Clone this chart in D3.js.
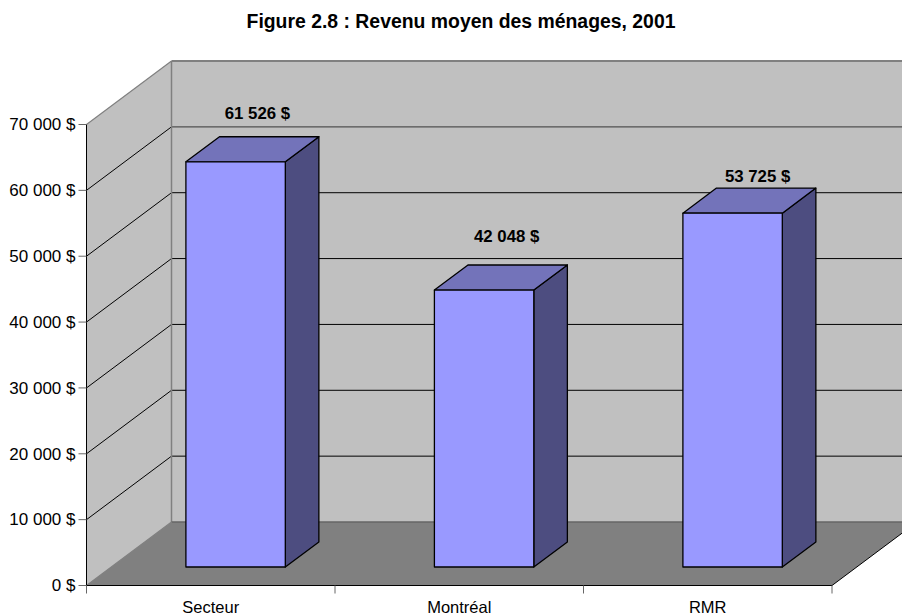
<!DOCTYPE html>
<html><head><meta charset="utf-8">
<script src="https://cdn.jsdelivr.net/npm/d3@7/dist/d3.min.js"></script>
<style>html,body{margin:0;padding:0;background:#fff}svg{display:block}text{font-family:"Liberation Sans",Arial,sans-serif;fill:#000}</style>
</head><body><svg id="c" width="902" height="615"></svg>
<script>
const titleText = "Figure 2.8 : Revenu moyen des ménages, 2001";
const categories = ["Secteur", "Montréal", "RMR"];
const values = [61526, 42048, 53725];
const valueLabels = ["61 526 $", "42 048 $", "53 725 $"];
const tickValues = [0, 10000, 20000, 30000, 40000, 50000, 60000, 70000];
const tickLabels = ["0 $", "10 000 $", "20 000 $", "30 000 $", "40 000 $", "50 000 $", "60 000 $", "70 000 $"];

const svg = d3.select("#c");
const L = 86.5, R = 832, B = 585.5, T = 124.5;
const DX = 85, DY = -63.5;
const x = d3.scaleBand().domain(categories).range([L, R]);
const y = d3.scaleLinear().domain([0, 70000]).range([B, T]);
const line = d3.line();
const poly = (pts, fill, stroke, sw) => svg.append("path").attr("d", line(pts) + "Z")
  .attr("fill", fill).attr("stroke", stroke || "none").attr("stroke-width", sw || 0).attr("stroke-linejoin", "round");
const seg = (a, b, stroke, sw) => svg.append("line").attr("x1", a[0]).attr("y1", a[1]).attr("x2", b[0]).attr("y2", b[1])
  .attr("stroke", stroke).attr("stroke-width", sw);

// walls
poly([[L, y(0)], [L + DX, y(0) + DY], [L + DX, T + DY], [L, T]], "#C0C0C0");
poly([[L + DX, y(0) + DY], [R + DX, y(0) + DY], [R + DX, T + DY], [L + DX, T + DY]], "#C0C0C0");
poly([[L, B], [L + DX, B + DY], [R + DX, B + DY], [R, B]], "#808080");

// gridlines
tickValues.slice(1, -1).forEach(v => {
  const c = v === 60000 ? "#505050" : "#000";
  seg([L, y(v)], [L + DX, y(v) + DY], "#000", 1);
  seg([L + DX, y(v) + DY], [R + DX, y(v) + DY], c, v === 60000 ? 1.3 : 1);
});
// wall edges
seg([L, T], [L + DX, T + DY], "#808080", 1.2);
seg([L + DX, T + DY], [R + DX, T + DY], "#808080", 2);
seg([L + DX, T + DY], [L + DX, B + DY], "#808080", 1.5);
seg([L + DX, B + DY], [R + DX, B + DY], "#666", 1.5);
seg([L, B], [L + DX, B + DY], "#808080", 1.2);
seg([R, B], [R + DX, B + DY], "#000", 1);

// axes
seg([L, T], [L, B], "#000", 1);
seg([L, B], [R, B], "#000", 1);
tickValues.forEach((v, i) => {
  seg([L - 8, y(v)], [L, y(v)], "#666", 1);
  svg.append("text").attr("x", 75.5).attr("y", y(v) + 5.8).attr("text-anchor", "end")
    .attr("font-size", 17).text(tickLabels[i]);
});
x.domain().concat(null).forEach(c => {
  const px = c === null ? R : x(c);
  seg([px, B], [px, B + 8], "#666", 1);
});

// bars
const barW = x.bandwidth() * 0.4, barOff = x.bandwidth() * 0.4;
const dBx = DX * 0.395, dBy = DY * 0.395, lift = y(0) - 567;
const labelShift = [[71.5, -43.3], [72.3, -48.5], [74.7, -31.5]];
categories.forEach((c, i) => {
  const x0 = x(c) + barOff, x1 = x0 + barW, yb = y(0) - lift, yt = y(values[i]) - lift;
  poly([[x1, yt], [x1 + dBx, yt + dBy], [x1 + dBx, yb + dBy], [x1, yb]], "#4D4D80", "#000", 1.3);
  poly([[x0, yt], [x0 + dBx, yt + dBy], [x1 + dBx, yt + dBy], [x1, yt]], "#7373BA", "#000", 1.3);
  poly([[x0, yt], [x1, yt], [x1, yb], [x0, yb]], "#9999FF", "#000", 1.3);
  svg.append("text").attr("x", x0 + labelShift[i][0]).attr("y", yt + labelShift[i][1])
    .attr("text-anchor", "middle").attr("font-size", 16.8).attr("font-weight", "bold").text(valueLabels[i]);
  svg.append("text").attr("x", x(c) + x.bandwidth() / 2).attr("y", 613)
    .attr("text-anchor", "middle").attr("font-size", 16.5).text(c);
});

svg.append("text").attr("x", 461).attr("y", 27.5).attr("text-anchor", "middle")
  .attr("font-size", 19.4).attr("font-weight", "bold").text(titleText);
</script></body></html>
